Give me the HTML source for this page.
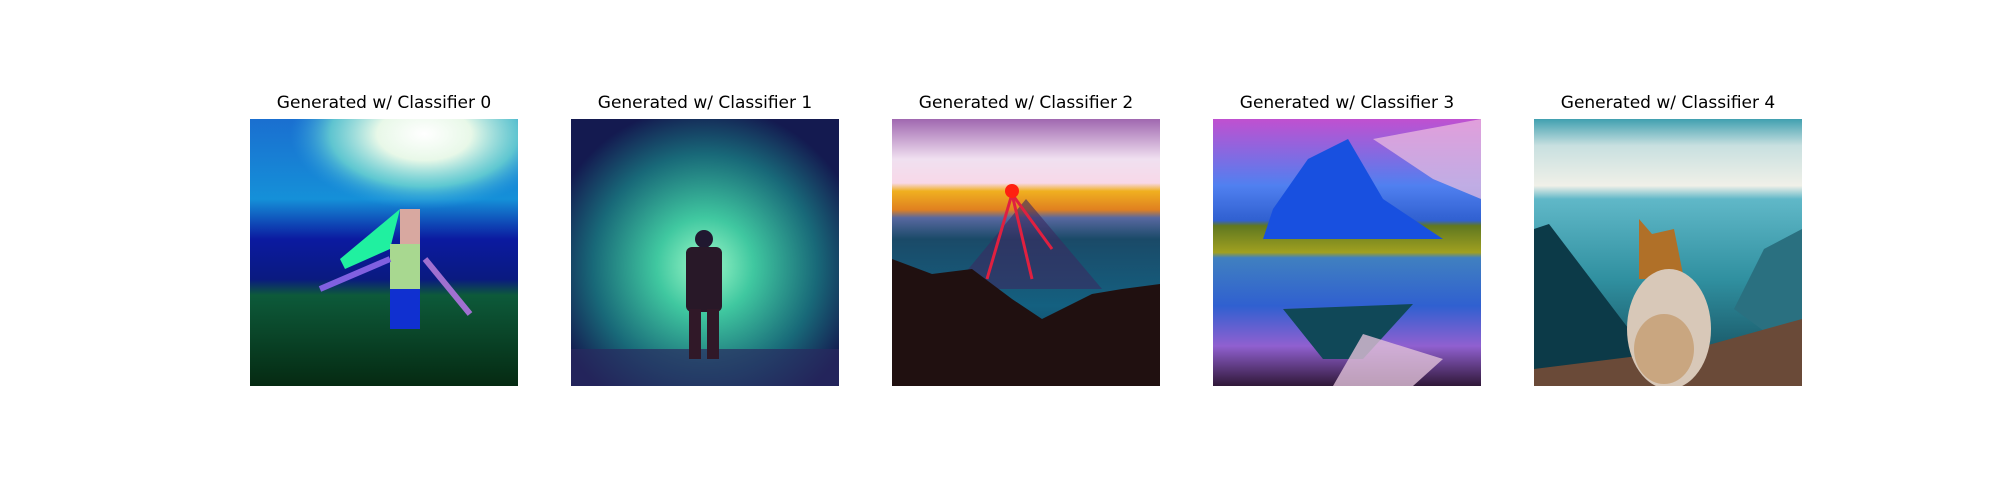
<!DOCTYPE html>
<html><head><meta charset="utf-8"><style>
html,body{margin:0;padding:0;background:#fff;}
#fig{position:relative;width:2000px;height:500px;overflow:hidden;font-family:"Liberation Sans","DejaVu Sans",sans-serif;}
.title{position:absolute;top:93px;width:268px;text-align:center;font-size:17px;color:#000;font-family:"DejaVu Sans","Liberation Sans",sans-serif;}
.panel{position:absolute;top:119px;width:268px;height:267px;}
svg{display:block}
</style></head><body>
<div id="fig">

<div class="title" style="left:250px">Generated w/ Classifier 0</div>
<div class="panel" style="left:250px">
<svg width="268" height="267" viewBox="0 0 268 267">
<defs><linearGradient id="a0" x1="0" y1="0" x2="0" y2="1">
<stop offset="0" stop-color="#1a6fd0"/><stop offset="0.3" stop-color="#1590d8"/><stop offset="0.45" stop-color="#0b1aa0"/><stop offset="0.6" stop-color="#0a1a80"/><stop offset="0.66" stop-color="#0d5a3a"/><stop offset="1" stop-color="#052a12"/></linearGradient>
<radialGradient id="b0" cx="0.65" cy="0.1" r="0.5"><stop offset="0" stop-color="#ffffff"/><stop offset="0.35" stop-color="#e8f8e8"/><stop offset="0.7" stop-color="#70d8d0" stop-opacity="0.8"/><stop offset="1" stop-color="#30a0e0" stop-opacity="0"/></radialGradient></defs>
<rect width="268" height="267" fill="url(#a0)"/>
<rect width="268" height="150" fill="url(#b0)"/>
<polygon points="90,140 150,90 140,130 95,150" fill="#20f0a0"/>
<rect x="150" y="90" width="20" height="35" fill="#d8a8a0"/>
<rect x="140" y="125" width="30" height="45" fill="#a8d890"/>
<rect x="140" y="170" width="30" height="40" fill="#1030d0"/>
<line x1="140" y1="140" x2="70" y2="170" stroke="#8060e0" stroke-width="6"/>
<line x1="175" y1="140" x2="220" y2="195" stroke="#a070d0" stroke-width="6"/>
</svg></div>

<div class="title" style="left:571px">Generated w/ Classifier 1</div>
<div class="panel" style="left:571px">
<svg width="268" height="267" viewBox="0 0 268 267">
<defs><radialGradient id="a1" cx="0.5" cy="0.55" r="0.6"><stop offset="0" stop-color="#9ff8c8"/><stop offset="0.3" stop-color="#40c8a0"/><stop offset="0.7" stop-color="#186878"/><stop offset="1" stop-color="#141a50"/></radialGradient></defs>
<rect width="268" height="267" fill="url(#a1)"/>
<rect x="0" y="230" width="268" height="37" fill="#2a2a60" opacity="0.7"/>
<circle cx="133" cy="120" r="9" fill="#201830"/>
<rect x="115" y="128" width="36" height="65" rx="6" fill="#281828"/>
<rect x="118" y="190" width="12" height="50" fill="#301828"/>
<rect x="136" y="190" width="12" height="50" fill="#301828"/>
</svg></div>

<div class="title" style="left:892px">Generated w/ Classifier 2</div>
<div class="panel" style="left:892px">
<svg width="268" height="267" viewBox="0 0 268 267">
<defs><linearGradient id="a2" x1="0" y1="0" x2="0" y2="1">
<stop offset="0" stop-color="#a068b0"/><stop offset="0.15" stop-color="#f0e0f0"/><stop offset="0.24" stop-color="#f8d8e8"/><stop offset="0.27" stop-color="#f0b020"/><stop offset="0.34" stop-color="#e08020"/><stop offset="0.37" stop-color="#5868a0"/><stop offset="0.45" stop-color="#1a4a68"/><stop offset="0.7" stop-color="#146080"/><stop offset="1" stop-color="#0a3850"/></linearGradient></defs>
<rect width="268" height="267" fill="url(#a2)"/>
<polygon points="134,80 60,170 210,170" fill="#3a2a60" opacity="0.6"/>
<g stroke="#e02040" stroke-width="3"><line x1="120" y1="75" x2="95" y2="160"/><line x1="120" y1="75" x2="140" y2="160"/><line x1="120" y1="75" x2="160" y2="130"/></g>
<circle cx="120" cy="72" r="7" fill="#ff2010"/>
<polygon points="0,140 40,155 80,150 120,180 150,200 200,175 230,170 268,165 268,267 0,267" fill="#201010"/>
</svg></div>

<div class="title" style="left:1213px">Generated w/ Classifier 3</div>
<div class="panel" style="left:1213px">
<svg width="268" height="267" viewBox="0 0 268 267">
<defs><linearGradient id="a3" x1="0" y1="0" x2="0" y2="1">
<stop offset="0" stop-color="#c050d0"/><stop offset="0.25" stop-color="#5080f0"/><stop offset="0.38" stop-color="#3060d0"/><stop offset="0.4" stop-color="#607820"/><stop offset="0.5" stop-color="#a0a020"/><stop offset="0.52" stop-color="#4080c0"/><stop offset="0.7" stop-color="#3060d0"/><stop offset="0.85" stop-color="#9060d0"/><stop offset="1" stop-color="#301838"/></linearGradient></defs>
<rect width="268" height="267" fill="url(#a3)"/>
<polygon points="60,90 95,40 135,20 170,80 230,120 50,120" fill="#1850e0"/>
<polygon points="160,20 268,0 268,80 220,60" fill="#f0c0e0" opacity="0.7"/>
<polygon points="70,190 200,185 150,240 110,240" fill="#104858"/>
<polygon points="150,215 230,240 200,267 120,267" fill="#e0c0d8" opacity="0.8"/>
</svg></div>

<div class="title" style="left:1534px">Generated w/ Classifier 4</div>
<div class="panel" style="left:1534px">
<svg width="268" height="267" viewBox="0 0 268 267">
<defs><linearGradient id="a4" x1="0" y1="0" x2="0" y2="1">
<stop offset="0" stop-color="#40a0b0"/><stop offset="0.1" stop-color="#c8e0e0"/><stop offset="0.25" stop-color="#f0f0e8"/><stop offset="0.3" stop-color="#60b8c8"/><stop offset="0.6" stop-color="#3090a0"/><stop offset="1" stop-color="#104050"/></linearGradient></defs>
<rect width="268" height="267" fill="url(#a4)"/>
<polygon points="0,110 15,105 110,230 110,267 0,267" fill="#0c3a48"/>
<polygon points="268,110 230,130 200,190 268,240" fill="#2a7080"/>
<polygon points="160,230 268,200 268,267 0,267 0,250" fill="#6a4a38"/>
<polygon points="105,100 118,115 140,110 150,160 105,160" fill="#b07028"/>
<ellipse cx="135" cy="210" rx="42" ry="60" fill="#d8c8b8"/>
<ellipse cx="130" cy="230" rx="30" ry="35" fill="#c0905a" opacity="0.6"/>
</svg></div>

</div>
</body></html>
